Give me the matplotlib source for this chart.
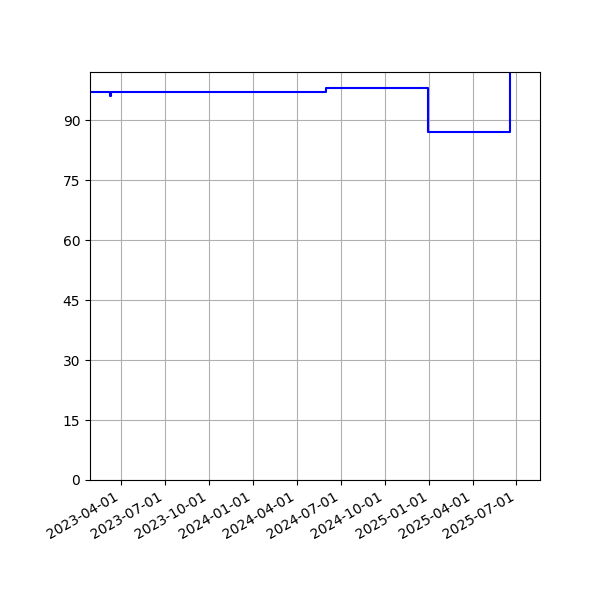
import matplotlib
matplotlib.use("Agg")
import matplotlib.pyplot as plt
import matplotlib.dates as mdates
import pandas as pd

# change points of the series (date, value), held until the next one
dates = ["2023-01-20", "2023-03-10", "2023-03-12", "2024-05-31",
         "2024-12-29", "2025-06-18", "2025-08-30"]
values = [97, 96, 97, 98, 87, 110, 110]

x_start = "2023-01-27"
x_end = "2025-08-19"
y_ticks = [0, 15, 30, 45, 60, 75, 90]

fig, ax = plt.subplots(figsize=(6, 6), dpi=100)
ax.plot(pd.to_datetime(dates), values, color="blue", drawstyle="steps-post")

ax.set_xlim(pd.Timestamp(x_start), pd.Timestamp(x_end))
ax.set_ylim(0, 102)
ax.set_yticks(y_ticks)
ax.xaxis.set_major_locator(mdates.MonthLocator(bymonth=[1, 4, 7, 10]))
ax.xaxis.set_major_formatter(mdates.DateFormatter("%Y-%m-%d"))
ax.grid(True)

fig.autofmt_xdate()
fig.subplots_adjust(left=0.15, right=0.9, top=0.88, bottom=0.2)
fig.savefig("out.png")
